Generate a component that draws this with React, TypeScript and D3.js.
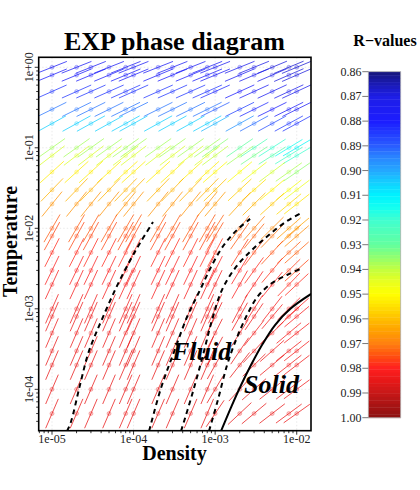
import React from 'react';
import * as d3 from 'd3';

// ---------- data ----------
const densities = [1e-5, 2e-5, 3e-5, 5e-5, 8e-5, 1e-4, 2e-4, 3e-4, 5e-4, 8e-4, 1e-3, 2e-3, 3e-3, 5e-3, 8e-3, 1e-2];
const temperatures = [1, 0.8, 0.5, 0.3, 0.2, 0.1, 0.08, 0.05, 0.03, 0.02, 0.01, 0.008, 0.005, 0.003, 0.002, 0.001, 8e-4, 5e-4, 3e-4, 2e-4, 1e-4, 5e-5];

// isomorph slope (gamma) for the ten low densities (1e-5 .. 8e-4), per temperature row
const gammaLow = [0.40, 0.42, 0.45, 0.50, 0.56, 0.72, 0.78, 0.92, 1.05, 1.25, 1.75, 1.85, 2.0, 2.1, 2.2, 2.3, 2.33, 2.35, 2.35, 2.35, 2.35, 2.35];
// gamma for densities 1e-3, 2e-3, 3e-3, 5e-3, 8e-3, 1e-2
const gammaHigh = [
  [0.40, 0.41, 0.41, 0.42, 0.42, 0.42],
  [0.42, 0.43, 0.43, 0.44, 0.44, 0.44],
  [0.45, 0.46, 0.46, 0.47, 0.47, 0.47],
  [0.50, 0.50, 0.50, 0.50, 0.50, 0.50],
  [0.56, 0.56, 0.55, 0.55, 0.55, 0.55],
  [0.72, 0.70, 0.68, 0.65, 0.62, 0.60],
  [0.75, 0.72, 0.68, 0.65, 0.62, 0.60],
  [0.88, 0.85, 0.80, 0.76, 0.72, 0.70],
  [1.00, 0.95, 0.90, 0.85, 0.80, 0.78],
  [1.20, 1.10, 1.00, 0.92, 0.85, 0.80],
  [1.60, 1.35, 1.15, 1.00, 0.90, 0.85],
  [1.70, 1.45, 1.25, 1.05, 0.92, 0.88],
  [1.90, 1.60, 1.35, 1.10, 0.95, 0.90],
  [2.00, 1.70, 1.40, 1.20, 1.00, 0.92],
  [2.10, 1.80, 1.50, 1.25, 1.05, 0.95],
  [2.20, 1.90, 1.60, 1.30, 1.00, 0.90],
  [2.10, 1.80, 1.50, 1.20, 0.95, 0.85],
  [2.00, 1.60, 1.30, 1.00, 0.85, 0.80],
  [1.90, 1.50, 1.10, 0.90, 0.80, 0.80],
  [1.80, 1.30, 1.00, 0.85, 0.80, 0.78],
  [1.70, 1.10, 0.90, 0.80, 0.78, 0.75],
  [1.50, 0.95, 0.85, 0.78, 0.75, 0.72],
];

// R-values for low densities per row, and for the six high densities
const rLow = [0.876, 0.878, 0.884, 0.893, 0.905, 0.937, 0.943, 0.953, 0.962, 0.967, 0.974, 0.976, 0.979, 0.981, 0.982, 0.983, 0.984, 0.984, 0.985, 0.985, 0.985, 0.985];
const rHigh = [
  [0.874, 0.872, 0.870, 0.869, 0.868, 0.868],
  [0.876, 0.874, 0.872, 0.870, 0.869, 0.869],
  [0.882, 0.879, 0.876, 0.874, 0.872, 0.872],
  [0.890, 0.886, 0.882, 0.879, 0.877, 0.876],
  [0.902, 0.897, 0.892, 0.888, 0.885, 0.884],
  [0.934, 0.930, 0.925, 0.920, 0.915, 0.912],
  [0.940, 0.937, 0.932, 0.927, 0.922, 0.920],
  [0.951, 0.949, 0.946, 0.942, 0.938, 0.935],
  [0.960, 0.958, 0.955, 0.952, 0.948, 0.946],
  [0.966, 0.964, 0.962, 0.959, 0.956, 0.954],
  [0.973, 0.972, 0.970, 0.968, 0.966, 0.964],
  [0.975, 0.974, 0.973, 0.971, 0.969, 0.968],
  [0.978, 0.977, 0.976, 0.975, 0.974, 0.973],
  [0.980, 0.980, 0.979, 0.978, 0.977, 0.976],
  [0.982, 0.981, 0.981, 0.980, 0.979, 0.979],
  [0.983, 0.983, 0.982, 0.982, 0.981, 0.981],
  [0.984, 0.983, 0.983, 0.982, 0.982, 0.981],
  [0.984, 0.984, 0.983, 0.983, 0.982, 0.982],
  [0.985, 0.984, 0.984, 0.983, 0.983, 0.982],
  [0.985, 0.985, 0.984, 0.984, 0.983, 0.983],
  [0.985, 0.985, 0.985, 0.984, 0.984, 0.983],
  [0.985, 0.985, 0.985, 0.985, 0.984, 0.984],
];

// boundary curves [density, temperature]
const dashedA: [number, number][] = [[1.53e-5, 3.03e-5], [1.71e-5, 3.96e-5], [2.16e-5, 1.04e-4], [2.74e-5, 2.67e-4], [3.27e-5, 4.34e-4], [3.98e-5, 6.92e-4], [6.08e-5, 1.81e-3], [9.55e-5, 4.40e-3], [1.20e-4, 6.56e-3], [1.73e-4, 1.20e-2]];
const dashedB: [number, number][] = [[1.55e-4, 3.03e-5], [2.17e-4, 1.04e-4], [3.13e-4, 2.91e-4], [4.52e-4, 7.91e-4], [6.52e-4, 1.71e-3], [9.15e-4, 3.50e-3], [1.28e-3, 6.20e-3], [1.85e-3, 9.53e-3], [2.68e-3, 1.31e-2]];
const dashedC: [number, number][] = [[3.82e-4, 3.03e-5], [5.20e-4, 8.50e-5], [7.10e-4, 2.67e-4], [9.15e-4, 7.26e-4], [1.21e-3, 1.71e-3], [1.80e-3, 3.31e-3], [2.83e-3, 5.38e-3], [4.71e-3, 8.50e-3], [7.60e-3, 1.23e-2], [1.19e-2, 1.59e-2]];
const dashedD: [number, number][] = [[8.41e-4, 3.03e-5], [1.08e-3, 7.36e-5], [1.40e-3, 2.00e-4], [1.80e-3, 4.10e-4], [2.46e-3, 8.38e-4], [3.35e-3, 1.44e-3], [4.98e-3, 2.09e-3], [7.60e-3, 2.63e-3], [1.10e-2, 3.12e-3]];
const solidLine: [number, number][] = [[1.18e-3, 3.03e-5], [1.61e-3, 6.38e-5], [2.08e-3, 1.13e-4], [2.75e-3, 2.00e-4], [3.75e-3, 3.55e-4], [5.42e-3, 6.29e-4], [8.28e-3, 9.94e-4], [1.50e-2, 1.53e-3]];

const xMajor = [1e-5, 1e-4, 1e-3, 1e-2];
const xMajorLabels = ['1e-05', '1e-04', '1e-03', '1e-02'];
const yMajor = [1, 0.1, 0.01, 0.001, 1e-4];
const yMajorLabels = ['1e+00', '1e-01', '1e-02', '1e-03', '1e-04'];

const cbTicks = [0.86, 0.87, 0.88, 0.89, 0.90, 0.91, 0.92, 0.93, 0.94, 0.95, 0.96, 0.97, 0.98, 0.99, 1.00];
const cbStops = [0.86, 0.865, 0.87, 0.88, 0.89, 0.895, 0.90, 0.905, 0.91, 0.915, 0.92, 0.93, 0.935, 0.94, 0.945, 0.95, 0.955, 0.96, 0.965, 0.97, 0.975, 0.98, 0.985, 0.99, 0.995, 1.0];
const cbColors = ['#16167a', '#1a1ab4', '#1e1ee6', '#1c1cff', '#2a5cff', '#2a88ff', '#24a8ff', '#14d0ff', '#00f2ff', '#14fff0', '#40ffd0', '#62ffa0', '#90ff70', '#c2ff40', '#e8ff20', '#ffff00', '#ffe000', '#ffc000', '#ffa000', '#ff8010', '#ff5010', '#ff2020', '#e81818', '#c81818', '#a81414', '#8c1010'];

// ---------- layout ----------
const W = 420, H = 490;
const PL = 38.7, PR = 311, PT = 57.3, PB = 430.7;
const SERIF = '"Liberation Serif", "Times New Roman", serif';

export default function App() {
  const x = d3.scaleLog().domain([6.87e-6, 1.496e-2]).range([PL, PR]);
  const y = d3.scaleLog().domain([3.062e-5, 1.3305]).range([PB, PT]);
  const color = d3.scaleLinear<string>().domain(cbStops).range(cbColors).interpolate(d3.interpolateRgb).clamp(true);

  const half = 16;
  const segs: any[] = [];
  temperatures.forEach((T, i) => {
    densities.forEach((d, j) => {
      const g = j < 10 ? gammaLow[i] : gammaHigh[i][j - 10];
      const r = j < 10 ? rLow[i] : rHigh[i][j - 10];
      const cx = x(d), cy = y(T);
      const ex = x(d * Math.pow(10, 0.1)) - cx;
      const ey = y(T * Math.pow(10, 0.1 * g)) - cy;
      const L = Math.hypot(ex, ey);
      const hx = (ex / L) * half, hy = (ey / L) * half;
      segs.push({ key: `${i}-${j}`, x1: cx - hx, y1: cy - hy, x2: cx + hx, y2: cy + hy, cx, cy, c: color(r) });
    });
  });

  const line = d3.line<[number, number]>().x(p => x(p[0])).y(p => y(p[1])).curve(d3.curveCatmullRom);

  const xMinor = x.ticks(20).filter(v => !xMajor.some(m => Math.abs(m - v) / m < 1e-6));
  const yMinor = y.ticks(20).filter(v => !yMajor.some(m => Math.abs(m - v) / m < 1e-6));

  const cbTop = 71.7, cbBot = 417.7, cbL = 368.3, cbR = 400.7;
  const cy = d3.scaleLinear().domain([0.86, 1.0]).range([cbTop, cbBot]);
  const nBands = 100;
  const bands = d3.range(nBands).map(k => {
    const v0 = 0.86 + (k * 0.14) / nBands;
    const v1 = 0.86 + ((k + 1) * 0.14) / nBands;
    return { y0: cy(v0), y1: cy(v1), c: color((v0 + v1) / 2) };
  });

  return (
    <svg width={W} height={H} style={{ position: 'absolute', left: 0, top: 0, background: '#fff' }} fontFamily={SERIF}>
      <defs>
        <clipPath id="plotclip">
          <rect x={PL} y={PT} width={PR - PL} height={PB - PT} />
        </clipPath>
      </defs>
      <rect x={0} y={0} width={W} height={H} fill="#fff" />

      {/* grid */}
      <g stroke="#e4e4e4" strokeWidth={0.8} strokeDasharray="1.5,2">
        {xMajor.map(v => <line key={'gx' + v} x1={x(v)} x2={x(v)} y1={PT} y2={PB} />)}
        {yMajor.map(v => <line key={'gy' + v} x1={PL} x2={PR} y1={y(v)} y2={y(v)} />)}
      </g>

      {/* segments */}
      <g clipPath="url(#plotclip)">
        {segs.map(s => (
          <g key={s.key}>
            <line x1={s.x1} y1={s.y1} x2={s.x2} y2={s.y2} stroke={s.c} strokeWidth={0.9} strokeOpacity={0.85} />
            <circle cx={s.cx} cy={s.cy} r={2} fill={s.c} fillOpacity={0.22} stroke={s.c} strokeOpacity={0.45} strokeWidth={0.6} />
          </g>
        ))}
        <g fill="none" stroke="#000">
          {[dashedA, dashedB, dashedC, dashedD].map((ln, k) => (
            <path key={'dl' + k} d={line(ln) || ''} strokeWidth={2} strokeDasharray="5,4" />
          ))}
          <path d={line(solidLine) || ''} strokeWidth={2} />
        </g>
      </g>

      {/* phase labels */}
      <text x={172} y={360} fontSize={26} fontWeight="bold" fontStyle="italic">Fluid</text>
      <text x={244} y={393} fontSize={26} fontWeight="bold" fontStyle="italic">Solid</text>

      {/* frame */}
      <rect x={PL} y={PT} width={PR - PL} height={PB - PT} fill="none" stroke="#000" strokeWidth={1.6} />

      {/* axes ticks */}
      <g stroke="#000" strokeWidth={0.8}>
        {xMajor.map(v => <line key={'xt' + v} x1={x(v)} x2={x(v)} y1={PB} y2={PB + 4} />)}
        {xMinor.map(v => <line key={'xm' + v} x1={x(v)} x2={x(v)} y1={PB} y2={PB + 2.5} />)}
        {yMajor.map(v => <line key={'yt' + v} x1={PL} x2={PL - 4} y1={y(v)} y2={y(v)} />)}
        {yMinor.map(v => <line key={'ym' + v} x1={PL} x2={PL - 2.5} y1={y(v)} y2={y(v)} />)}
      </g>
      {xMajor.map((v, k) => (
        <text key={'xl' + v} x={x(v)} y={443} fontSize={12} textAnchor="middle" fill="#222">{xMajorLabels[k]}</text>
      ))}
      {yMajor.map((v, k) => (
        <text key={'yl' + v} transform={`translate(33,${y(v)}) rotate(-90)`} fontSize={12} textAnchor="middle" fill="#222">{yMajorLabels[k]}</text>
      ))}

      {/* titles */}
      <text x={174.5} y={50} fontSize={26} fontWeight="bold" textAnchor="middle">EXP phase diagram</text>
      <text x={174.5} y={460} fontSize={20} fontWeight="bold" textAnchor="middle">Density</text>
      <text transform={`translate(17,241.5) rotate(-90)`} fontSize={20} fontWeight="bold" textAnchor="middle">Temperature</text>

      {/* colorbar */}
      <text x={385} y={46} fontSize={16} fontWeight="bold" textAnchor="middle">R−values</text>
      <g>
        {bands.map((b, k) => (
          <rect key={'cb' + k} x={cbL} y={b.y0} width={cbR - cbL} height={b.y1 - b.y0 + 0.4} fill={b.c} />
        ))}
        <rect x={cbL} y={cbTop} width={cbR - cbL} height={cbBot - cbTop} fill="none" stroke="#b0b0b0" strokeWidth={0.8} />
      </g>
      <g stroke="#555" strokeWidth={0.8}>
        {cbTicks.map(v => <line key={'ct' + v} x1={cbL - 6} x2={cbL} y1={cy(v)} y2={cy(v)} />)}
      </g>
      {cbTicks.map(v => (
        <text key={'cl' + v} x={361.5} y={cy(v) + 4} fontSize={12} textAnchor="end" fill="#222">{v.toFixed(2)}</text>
      ))}
    </svg>
  );
}
